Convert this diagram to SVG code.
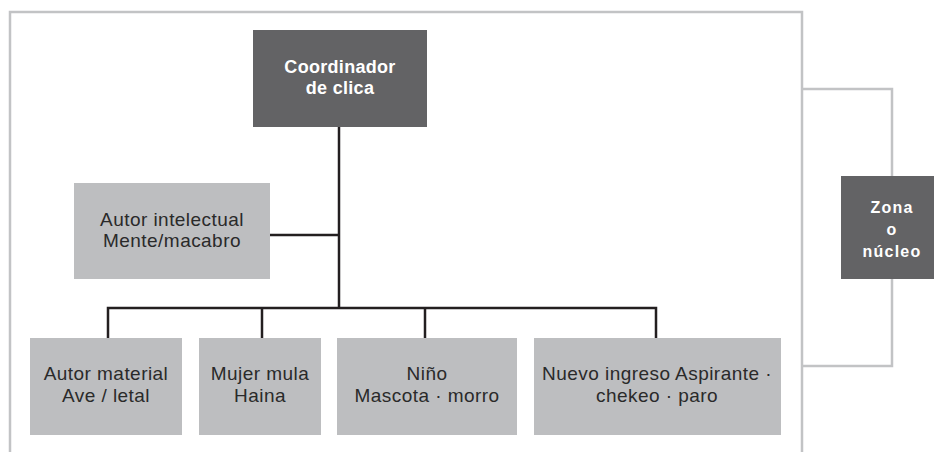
<svg xmlns="http://www.w3.org/2000/svg" width="936" height="452" viewBox="0 0 936 452">
<style>
.frame{fill:none;stroke:#c2c3c5;stroke-width:2.5}
.conn{fill:none;stroke:#231f20;stroke-width:2.5}
.dark{fill:#636365}
.light{fill:#bdbec0}
.tb{font-family:"Liberation Sans",Arial,sans-serif;font-weight:bold;fill:#ffffff;text-anchor:middle}
.tr{font-family:"Liberation Sans",Arial,sans-serif;font-size:19px;letter-spacing:0.45px;fill:#2a2a2a;text-anchor:middle}
</style>
<rect width="936" height="452" fill="#ffffff"/>
<g id="frame">
<path class="frame" d="M10,452 V12 H802 V452"/>
<path class="frame" d="M802,89 H892 V176 M892,279 V366 H802"/>
</g>
<g id="connectors">
<path class="conn" d="M339,127 V308"/>
<path class="conn" d="M266,235 H339"/>
<path class="conn" d="M108,338 V308 H656 V338"/>
<path class="conn" d="M262,308 V338"/>
<path class="conn" d="M425,308 V338"/>
</g>
<g id="coordinador">
<rect class="dark" x="253" y="30" width="174" height="97"/>
<text class="tb" font-size="18" letter-spacing="0.3" x="340" y="73">Coordinador</text>
<text class="tb" font-size="18" letter-spacing="0.3" x="340" y="94">de clica</text>
</g>
<g id="autor-intelectual">
<rect class="light" x="74" y="183" width="196" height="96"/>
<text class="tr" x="172" y="226">Autor intelectual</text>
<text class="tr" x="172" y="247">Mente/macabro</text>
</g>
<g id="autor-material">
<rect class="light" x="30" y="338" width="152" height="97"/>
<text class="tr" x="106" y="380">Autor material</text>
<text class="tr" x="106" y="402">Ave / letal</text>
</g>
<g id="mujer-mula">
<rect class="light" x="199" y="338" width="122" height="97"/>
<text class="tr" x="260" y="380">Mujer mula</text>
<text class="tr" x="260" y="402">Haina</text>
</g>
<g id="nino">
<rect class="light" x="337" y="338" width="180" height="97"/>
<text class="tr" x="427" y="380">Niño</text>
<text class="tr" x="427" y="402">Mascota · morro</text>
</g>
<g id="nuevo-ingreso">
<rect class="light" x="534" y="338" width="247" height="97"/>
<text class="tr" x="657" y="380">Nuevo ingreso Aspirante ·</text>
<text class="tr" x="657" y="402">chekeo · paro</text>
</g>
<g id="zona">
<rect class="dark" x="841" y="176" width="93" height="103"/>
<text class="tb" font-size="16" letter-spacing="1.2" x="892" y="213">Zona</text>
<text class="tb" font-size="16" letter-spacing="1.2" x="892" y="235">o</text>
<text class="tb" font-size="16" letter-spacing="1.2" x="892" y="257">núcleo</text>
</g>
</svg>
